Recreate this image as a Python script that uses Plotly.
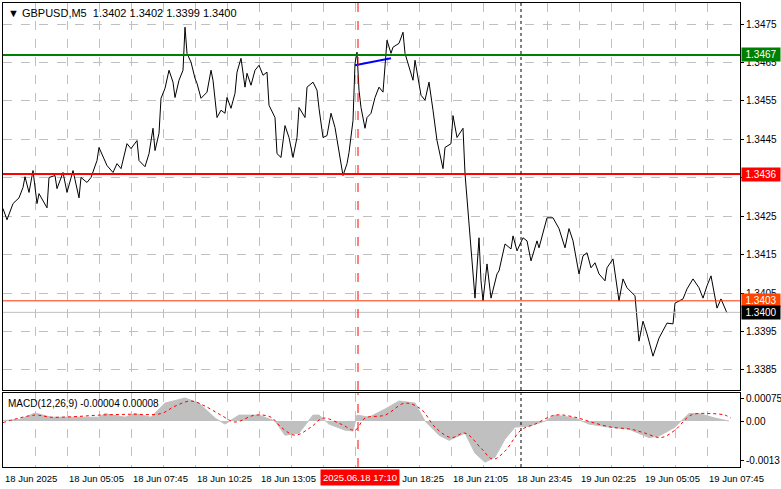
import plotly.graph_objects as go

# ---- data ----
bar_idx = [0,2,5,8,10,11,13,15,17,18,22,23,26,27,30,32,35,38,39,42,44,47,48,52,55,57,59,62,64,67,
           68,71,73,75,76,78,79,81,83,85,86,88,90,91,92,
           94,96,97,99,102,104,105,107,109,111,112,114,116,117,119,121,122,124,126,128,130,132,133,136,137,139,141,143,145,147,
           148,151,152,155,157,158,160,162,164,166,167,170,172,173,175,176,177,178,179,181,182,
           184,186,188,190,192,194,195,198,200,201,203,205,206,209,211,213,215,217,220,221,224,225,227,230,231,234,236,238,239,
           240,242,244,247,248,251,254,255,257,260,262,264,267,268,272,275,278,281,283,285,288,290,292,294,296,298,301,302,305,308,
           310,312,316,318,320,322,325,328,332,335,336,340,342,345,348,350,352,354,357,359,362]
close = [1.34270,1.34241,1.34283,1.34298,1.34325,1.34353,1.34312,1.34369,1.34283,1.34309,1.34272,1.34351,1.34356,1.34322,1.34364,
         1.34312,1.34369,1.34298,1.34351,1.34338,1.34351,1.34395,1.34429,1.34382,1.34364,1.34387,1.34374,1.34439,1.34426,1.34447,
         1.34395,1.34379,1.34413,1.34479,1.34421,1.34466,1.34557,1.34583,1.34630,1.34599,1.34559,1.34604,1.34630,1.34742,1.34674,
         1.34651,1.34609,1.34596,1.34557,1.34573,1.34630,1.34604,1.34507,1.34526,1.34518,1.34559,1.34531,1.34570,1.34625,1.34661,
         1.34586,1.34622,1.34591,1.34630,1.34643,1.34617,1.34625,1.34539,1.34507,1.34413,1.34403,1.34486,1.34455,1.34403,1.34455,
         1.34533,1.34507,1.34586,1.34599,1.34578,1.34531,1.34455,1.34460,1.34518,1.34481,1.34447,1.34356,1.34387,1.34416,1.34499,
         1.34648,1.34677,1.34578,1.34533,1.34479,1.34507,
         1.34518,1.34559,1.34586,1.34573,1.34708,1.34674,1.34690,1.34700,1.34729,1.34674,1.34638,1.34604,1.34656,1.34565,1.34552,
         1.34599,1.34526,1.34447,1.34374,1.34429,1.34439,1.34512,1.34455,1.34479,1.34361,1.34168,1.34037,1.34194,1.34082,
         1.34030,1.34126,1.34037,1.34100,1.34108,1.34178,1.34165,1.34199,1.34160,1.34194,1.34186,1.34134,1.34186,1.34168,1.34246,
         1.34246,1.34218,1.34168,1.34218,1.34186,1.34100,1.34147,1.34155,1.34116,1.34129,1.34100,1.34082,1.34116,1.34139,1.34030,
         1.34087,1.34064,1.34043,1.33925,1.33977,1.33944,1.33886,1.33933,1.33972,1.33970,1.34024,1.34035,1.34061,1.34087,1.34064,
         1.34037,1.34069,1.34095,1.34011,1.34035,1.33998]

hist_idx = [0,8,16,24,48,51,61,66,74,81,91,98,106,111,118,128,136,141,148,155,158,163,171,175,177,183,191,198,206,211,
            218,223,231,236,241,246,251,256,263,271,276,286,293,303,313,323,328,336,343,348,356,363]
hist_val = [0.00002,0.00005,0.00027,0.00013,0.00013,0.00025,0.00013,0.00025,0.00013,0.0006,0.00077,0.0006,0.0001,-0.0001,0.0002,
            0.0002,0,-0.00047,-0.0004,0.0002,0.0002,-0.0001,-0.0003,-0.00033,0.0002,0.00013,0.0004,0.00067,0.0006,0,
            -0.00047,-0.00064,-0.0004,-0.00107,-0.00137,-0.0012,-0.0006,-0.0002,-0.00017,0,0.0002,0.0001,-0.0001,-0.0002,-0.00027,
            -0.00055,-0.0005,-0.0002,0.00025,0.00025,0.0001,0]
sig_idx = [0,16,24,36,48,64,79,86,94,101,109,116,126,134,139,146,154,160,169,176,181,191,201,209,216,224,231,239,245,251,
           259,266,276,286,294,304,314,321,329,336,344,354,361,364]
sig_val = [-0.00005,0.0002,0.00013,0.00015,0.0002,0.00023,0.00025,0.0005,0.00067,0.0005,0.0002,-0.00003,0.0002,0.00013,-0.0002,
           -0.00047,-0.0002,0.0001,-0.0001,-0.0003,0.0001,0.0002,0.0006,0.0004,-0.0002,-0.00055,-0.0004,-0.0009,-0.00127,-0.001,
           -0.0003,-0.0001,0.0002,0.00013,-0.00003,-0.0002,-0.00027,-0.0004,-0.00055,-0.0003,0.0002,0.00025,0.0002,0.0001]

tick_idx = [0,32,64,96,128,192,224,256,288,320,352]
tick_text = ["18 Jun 2025","18 Jun 05:05","18 Jun 07:45","18 Jun 10:25","18 Jun 13:05","18 Jun 18:25",
             "18 Jun 21:05","18 Jun 23:45","19 Jun 02:25","19 Jun 05:05","19 Jun 07:45"]
price_ticks = [1.3385,1.3395,1.3405,1.3415,1.3425,1.3435,1.3445,1.3455,1.3465,1.3475]
resistance = 1.3467
support = 1.3436
ask = 1.3403
bid = 1.3400
trend_idx = [176, 194]
trend_val = [1.34643, 1.34661]
event_idx = 177.5
event_label = "2025.06.18 17:10"
day_idx = 259

FONT = "Liberation Sans"
fig = go.Figure()
fig.add_trace(go.Scatter(x=bar_idx, y=close, mode="lines", line=dict(color="black", width=1), xaxis="x", yaxis="y"))
fig.add_trace(go.Scatter(x=trend_idx, y=trend_val, mode="lines", line=dict(color="#0000ff", width=2), xaxis="x", yaxis="y"))
fig.add_trace(go.Scatter(x=hist_idx, y=hist_val, mode="lines", fill="tozeroy", fillcolor="#c0c0c0",
                         line=dict(color="#c0c0c0", width=1), xaxis="x2", yaxis="y2"))
fig.add_trace(go.Scatter(x=sig_idx, y=sig_val, mode="lines", line=dict(color="red", width=1, dash="dot", shape="spline"),
                         xaxis="x2", yaxis="y2"))

shapes = []
for val, col, w in [(resistance, "green", 2), (support, "red", 2), (ask, "#ff3300", 1), (bid, "#c0c0c0", 1)]:
    shapes.append(dict(type="line", xref="x domain", yref="y", x0=0, x1=1, y0=val, y1=val, line=dict(color=col, width=w)))
for ax in ["y", "y2"]:
    shapes.append(dict(type="line", xref="x", yref=ax+" domain", x0=event_idx, x1=event_idx, y0=0, y1=1,
                       line=dict(color="red", width=1, dash="dash")))
    shapes.append(dict(type="line", xref="x", yref=ax+" domain", x0=day_idx, x1=day_idx, y0=0, y1=1,
                       line=dict(color="black", width=1, dash="dot")))

ann = [dict(x=0.004, y=0.996, xref="paper", yref="paper", xanchor="left", yanchor="top", showarrow=False,
            text="▼ GBPUSD,M5  1.3402 1.3402 1.3399 1.3400", font=dict(family=FONT, size=11, color="black")),
       dict(x=0.004, y=0.153, xref="paper", yref="paper", xanchor="left", yanchor="top", showarrow=False,
            text="MACD(12,26,9) -0.00004 0.00008", font=dict(family=FONT, size=10, color="black"))]
for ti, tt in zip(tick_idx, tick_text):
    ann.append(dict(x=ti, y=-0.008, xref="x", yref="paper", xanchor="left", yanchor="top", showarrow=False,
                    text=tt, font=dict(family=FONT, size=9.5, color="black")))
ann.append(dict(x=event_idx - 19, y=-0.004, xref="x", yref="paper", xanchor="left", yanchor="top", showarrow=False,
                text=event_label, bgcolor="red", borderpad=2, font=dict(family=FONT, size=9.5, color="white")))
for val, bg, fg in [(resistance, "green", "white"), (support, "red", "white"), (ask, "#ff4500", "white"), (bid, "black", "white")]:
    ann.append(dict(x=1.001, y=val, xref="paper", yref="y", xanchor="left", yanchor="middle", showarrow=False,
                    text=f"{val:.4f}", bgcolor=bg, borderpad=1, width=36, font=dict(family=FONT, size=10, color=fg)))

grid = dict(showgrid=True, gridcolor="#c0c0c0", griddash="dash", gridwidth=1)
fig.update_layout(
    width=781, height=489, margin=dict(l=3, r=41, t=3, b=22, autoexpand=False),
    paper_bgcolor="white", plot_bgcolor="white", showlegend=False,
    shapes=shapes, annotations=ann,
    xaxis=dict(domain=[0, 1], range=[0, 368.5], anchor="y", tick0=0, dtick=16, showticklabels=False,
               showline=True, linecolor="black", mirror=True, zeroline=False, ticks="", automargin=False, **grid),
    yaxis=dict(domain=[0.166, 1], range=[1.33798, 1.34805], side="right", tickvals=price_ticks,
               ticktext=[f"{v:.4f}" for v in price_ticks], showline=True, linecolor="black", mirror=True,
               zeroline=False, ticks="outside", ticklen=3, tickcolor="black", automargin=False,
               tickfont=dict(family=FONT, size=10, color="black"), **grid),
    xaxis2=dict(domain=[0, 1], range=[0, 368.5], anchor="y2", tick0=0, dtick=16, showticklabels=False,
                showline=True, linecolor="black", mirror=True, zeroline=False, ticks="", automargin=False, **grid),
    yaxis2=dict(domain=[0, 0.159], range=[-0.00153, 0.00093], side="right", tickvals=[-0.0013, 0, 0.00075],
                ticktext=["-0.0013", "0.00", "0.00075"], showline=True, linecolor="black", mirror=True,
                zeroline=False, showgrid=False, ticks="outside", ticklen=3, tickcolor="black", automargin=False,
                tickfont=dict(family=FONT, size=10, color="black"), anchor="x2"),
)
fig.write_html("out.html", config={"displayModeBar": False},
               post_script="document.body.style.margin='0';document.body.style.overflow='hidden';")
